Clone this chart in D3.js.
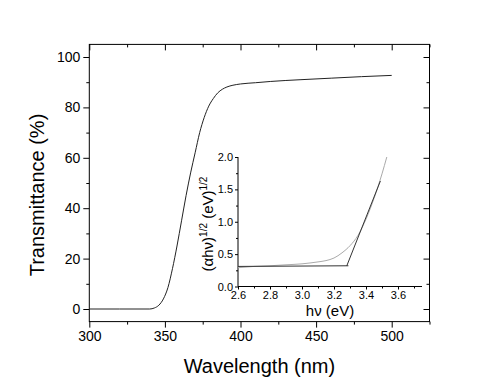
<!DOCTYPE html>
<html><head><meta charset="utf-8">
<script src="https://cdn.jsdelivr.net/npm/d3@7/dist/d3.min.js"></script>
<style>body{margin:0;background:#fff}text{font-family:"Liberation Sans",Arial,sans-serif;fill:#000}</style>
</head><body><svg id="c" width="499" height="386"></svg>
<script>
// Main transmittance spectrum
const wavelength = [300,320,340,343,346,349,352,355,358,361,364,367,370,373,376,379,382,385,388,391,395,400,410,420,440,460,480,500];
const transmittance = [0,0,0,0.4,1.5,4,8.5,16,25,35,45,54,62,70,76,80.5,83.5,85.8,87.2,88.1,88.8,89.3,89.8,90.3,91,91.6,92.2,92.7];
const mainXTicks = [300,350,400,450,500];
const mainYTicks = [0,20,40,60,80,100];
// Inset Tauc plot
const energy = [2.6,2.7,2.8,2.9,3.0,3.1,3.15,3.2,3.25,3.3,3.35,3.4,3.45,3.5,3.53];
const tauc = [0.29,0.31,0.32,0.335,0.35,0.38,0.40,0.44,0.52,0.63,0.79,1.04,1.36,1.74,2.0];
const fitBaseX = [2.6,3.29];
const fitBaseY = [0.31,0.32];
const fitEdgeX = [3.28,3.49];
const fitEdgeY = [0.32,1.63];
const insetXTicks = [2.6,2.8,3.0,3.2,3.4,3.6];
const insetYTicks = [0.0,0.5,1.0,1.5,2.0];

const svg = d3.select("#c");
const x = d3.scaleLinear().domain([300,525]).range([89.3,429.5]);
const y = d3.scaleLinear().domain([-5,105]).range([321.6,44.4]);

const g = svg.append("g");
g.append("rect").attr("x",x(300)).attr("y",y(105)).attr("width",x(525)-x(300)).attr("height",y(-5)-y(105))
 .attr("fill","none").attr("stroke","#000").attr("stroke-width",1);

function ticks(axisFn, scale, major, minor, fmt, transform, size){
  const a = axisFn(scale).tickValues(major).tickSize(6).tickPadding(3).tickFormat(fmt);
  const ga = g.append("g").attr("transform",transform).call(a);
  ga.select(".domain").remove();
  ga.selectAll("text").style("font-size",size+"px").style("font-family","Liberation Sans, Arial, sans-serif");
  const b = axisFn(scale).tickValues(minor).tickSize(3).tickFormat("");
  const gb = g.append("g").attr("transform",transform).call(b);
  gb.select(".domain").remove();
  return ga;
}
const xMinor = d3.range(325,526,50);
const yMinor = d3.range(10,101,20);
ticks(d3.axisBottom, x, mainXTicks, xMinor, d3.format("d"), `translate(0,${y(-5)})`, 14);
ticks(d3.axisLeft, y, mainYTicks, yMinor, d3.format("d"), `translate(${x(300)},0)`, 14);
ticks(d3.axisBottom, x, mainXTicks, xMinor, "", `translate(0,${y(105)})`, 14);
ticks(d3.axisLeft, y, mainYTicks, yMinor, "", `translate(${x(525)},0)`, 14);

g.append("path").datum(wavelength.map((w,i)=>[w,transmittance[i]]))
 .attr("d", d3.line().x(d=>x(d[0])).y(d=>y(d[1])).curve(d3.curveMonotoneX))
 .attr("fill","none").attr("stroke","#222").attr("stroke-width",1);

svg.append("text").attr("x",(x(300)+x(525))/2).attr("y",373).attr("text-anchor","middle")
 .style("font-size","20px").text("Wavelength (nm)");
svg.append("text").attr("transform","translate(44,195) rotate(-90)").attr("text-anchor","middle")
 .style("font-size","20px").text("Transmittance (%)");

// Inset
const ix = d3.scaleLinear().domain([2.6,3.75]).range([238,422]);
const iy = d3.scaleLinear().domain([0,2.0]).range([286.5,157]);
const gi = svg.append("g");
const ax1 = gi.append("g").attr("transform",`translate(0,${iy(0)})`)
 .call(d3.axisBottom(ix).tickValues(insetXTicks).tickSize(3).tickPadding(2).tickFormat(d3.format(".1f")));
ax1.select(".domain").attr("d",`M${ix(2.6)},0H${ix(3.75)}`);
ax1.selectAll("text").style("font-size","11px").style("font-family","Liberation Sans, Arial, sans-serif");
gi.append("g").attr("transform",`translate(0,${iy(0)})`)
 .call(d3.axisBottom(ix).tickValues([2.7,2.9,3.1,3.3,3.5,3.7]).tickSize(2).tickFormat("")).select(".domain").remove();
const ay1 = gi.append("g").attr("transform",`translate(${ix(2.6)},0)`)
 .call(d3.axisLeft(iy).tickValues(insetYTicks).tickSize(3).tickPadding(2).tickFormat(d3.format(".1f")));
ay1.select(".domain").attr("d",`M0,${iy(2.0)}V${iy(0)}`);
ay1.selectAll("text").style("font-size","11px").style("font-family","Liberation Sans, Arial, sans-serif");
gi.append("g").attr("transform",`translate(${ix(2.6)},0)`)
 .call(d3.axisLeft(iy).tickValues([0.25,0.75,1.25,1.75]).tickSize(2).tickFormat("")).select(".domain").remove();

gi.append("path").datum(energy.map((e,i)=>[e,tauc[i]]))
 .attr("d", d3.line().x(d=>ix(d[0])).y(d=>iy(d[1])).curve(d3.curveMonotoneX))
 .attr("fill","none").attr("stroke","#aaa").attr("stroke-width",1);
gi.append("path").datum(fitBaseX.map((e,i)=>[e,fitBaseY[i]]))
 .attr("d", d3.line().x(d=>ix(d[0])).y(d=>iy(d[1])))
 .attr("fill","none").attr("stroke","#333").attr("stroke-width",1);
gi.append("path").datum(fitEdgeX.map((e,i)=>[e,fitEdgeY[i]]))
 .attr("d", d3.line().x(d=>ix(d[0])).y(d=>iy(d[1])))
 .attr("fill","none").attr("stroke","#333").attr("stroke-width",1);

svg.append("text").attr("x",(ix(2.6)+ix(3.75))/2).attr("y",316).attr("text-anchor","middle")
 .style("font-size","15px").text("hν (eV)");
const yt = svg.append("text").attr("transform","translate(213,224) rotate(-90)").attr("text-anchor","middle").style("font-size","15px");
yt.append("tspan").text("(αhν)");
yt.append("tspan").attr("dy",-6).style("font-size","10px").text("1/2");
yt.append("tspan").attr("dy",6).text(" (eV)");
yt.append("tspan").attr("dy",-6).style("font-size","10px").text("1/2");
</script></body></html>
